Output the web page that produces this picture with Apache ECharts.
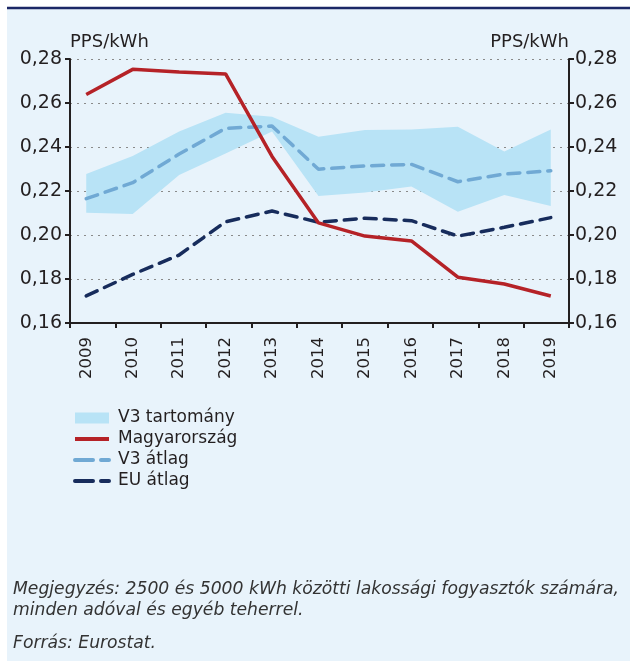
<!DOCTYPE html>
<html>
<head>
<meta charset="utf-8">
<script src="https://cdn.jsdelivr.net/npm/echarts@6/dist/echarts.min.js"></script>
<style>
  html, body { margin: 0; padding: 0; background: #fff; }
  #chart { width: 630px; height: 661px; }
</style>
</head>
<body>
<div id="chart"></div>
<script>
// evek es ertekek (PPS/kWh)
var years = ['2009', '2010', '2011', '2012', '2013', '2014', '2015', '2016', '2017', '2018', '2019'];
var hungary = [0.2639, 0.2753, 0.2741, 0.2732, 0.2357, 0.2055, 0.1995, 0.1973, 0.1808, 0.1777, 0.1723];
var v3Avg = [0.2165, 0.2238, 0.2368, 0.2485, 0.2495, 0.2299, 0.2314, 0.2321, 0.2242, 0.2277, 0.2292];
var euAvg = [0.1723, 0.1821, 0.1909, 0.2060, 0.2109, 0.2058, 0.2076, 0.2065, 0.1995, 0.2035, 0.2079];
var v3Low = [0.2101, 0.2095, 0.2273, 0.2371, 0.2470, 0.2177, 0.2193, 0.2220, 0.2106, 0.2182, 0.2132];
var v3High = [0.2277, 0.2359, 0.2470, 0.2556, 0.2538, 0.2447, 0.2477, 0.2480, 0.2492, 0.2379, 0.2480];

var yMin = 0.16, yMax = 0.28, yStep = 0.02;
var textCol = '#231f20';
var fontFam = '"DejaVu Sans"';
var noteFont = 'italic 17.2px "DejaVu Sans"';
var fmt = function (v) { return v.toFixed(2).replace('.', ','); };

var bandSpan = v3High.map(function (h, i) { return +(h - v3Low[i]).toFixed(4); });

var chart = echarts.init(document.getElementById('chart'));
chart.setOption({
  backgroundColor: '#ffffff',
  animation: false,
  textStyle: { fontFamily: fontFam, color: textCol },
  graphic: [
    { type: 'rect', shape: { x: 7, y: 9, width: 623, height: 652 }, style: { fill: '#e8f3fb' }, z: -10 },
    { type: 'line', shape: { x1: 7, y1: 8, x2: 630, y2: 8 }, style: { stroke: '#1b2766', lineWidth: 2.5 }, z: -9 },
    { type: 'text', left: 13, top: 581, style: { text: 'Megjegyzés: 2500 és 5000 kWh közötti lakossági fogyasztók számára,', font: noteFont, fill: '#333' } },
    { type: 'text', left: 13, top: 602, style: { text: 'minden adóval és egyéb teherrel.', font: noteFont, fill: '#333' } },
    { type: 'text', left: 13, top: 635, style: { text: 'Forrás: Eurostat.', font: noteFont, fill: '#333' } }
  ],
  legend: {
    orient: 'vertical',
    left: 68,
    top: 404,
    itemWidth: 34,
    itemHeight: 11,
    itemGap: 3,
    textStyle: { fontSize: 17, lineHeight: 18, color: textCol, padding: [0, 0, 0, 4] },
    data: [
      { name: 'V3 tartomány', icon: 'rect' },
      { name: 'Magyarország', itemStyle: { opacity: 0 }, lineStyle: { width: 4, type: 'solid' } },
      { name: 'V3 átlag', itemStyle: { opacity: 0 }, lineStyle: { width: 4, type: [18, 8], cap: 'round' } },
      { name: 'EU átlag', itemStyle: { opacity: 0 }, lineStyle: { width: 4, type: [18, 8], cap: 'round' } }
    ]
  },
  grid: [
    { left: 70, right: 61, top: 59, bottom: 338 },
    { left: 63, right: 56, top: 59, bottom: 338 }
  ],
  xAxis: [
    {
      type: 'category', gridIndex: 0, data: years, boundaryGap: true,
      axisLine: { lineStyle: { color: textCol, width: 2 } },
      axisTick: { show: true, length: 5, lineStyle: { color: textCol, width: 2 } },
      axisLabel: { show: false }
    },
    {
      type: 'category', gridIndex: 1, data: years, boundaryGap: true,
      axisLine: { show: false }, axisTick: { show: false },
      axisLabel: { rotate: 90, fontSize: 16.5, color: textCol, margin: 14 }
    }
  ],
  yAxis: [
    {
      type: 'value', gridIndex: 0, min: yMin, max: yMax, interval: yStep, position: 'left',
      name: 'PPS/kWh', nameLocation: 'end', nameGap: 8,
      nameTextStyle: { fontSize: 18, color: textCol, align: 'left' },
      axisLine: { show: true, lineStyle: { color: textCol, width: 2 } },
      axisTick: { show: true, length: 5, lineStyle: { color: textCol, width: 2 } },
      axisLabel: { fontSize: 19, color: textCol, margin: 8, formatter: fmt },
      splitLine: { show: true, lineStyle: { color: '#8a8a8a', type: [2, 5], width: 1 } }
    },
    {
      type: 'value', gridIndex: 0, min: yMin, max: yMax, interval: yStep, position: 'right',
      name: 'PPS/kWh', nameLocation: 'end', nameGap: 8,
      nameTextStyle: { fontSize: 18, color: textCol, align: 'right' },
      axisLine: { show: true, lineStyle: { color: textCol, width: 2 } },
      axisTick: { show: true, length: 5, lineStyle: { color: textCol, width: 2 } },
      axisLabel: { fontSize: 19, color: textCol, margin: 6, formatter: fmt },
      splitLine: { show: false }
    },
    {
      type: 'value', gridIndex: 1, min: yMin, max: yMax, interval: yStep,
      axisLine: { show: false }, axisTick: { show: false }, axisLabel: { show: false }, splitLine: { show: false }
    }
  ],
  series: [
    {
      name: 'band-base', type: 'line', xAxisIndex: 1, yAxisIndex: 2, stack: 'band',
      data: v3Low, symbol: 'none', lineStyle: { opacity: 0 }, silent: true, z: 1
    },
    {
      name: 'V3 tartomány', type: 'line', xAxisIndex: 1, yAxisIndex: 2, stack: 'band',
      data: bandSpan, symbol: 'none', lineStyle: { opacity: 0 },
      itemStyle: { color: '#b8e3f6' },
      areaStyle: { color: '#b8e3f6', opacity: 1 }, z: 1
    },
    {
      name: 'Magyarország', type: 'line', xAxisIndex: 1, yAxisIndex: 2,
      data: hungary, symbol: 'none', itemStyle: { color: '#b52227' },
      lineStyle: { color: '#b52227', width: 3.5 }, z: 3
    },
    {
      name: 'V3 átlag', type: 'line', xAxisIndex: 1, yAxisIndex: 2,
      data: v3Avg, symbol: 'none', itemStyle: { color: '#70a9d4' },
      lineStyle: { color: '#70a9d4', width: 3.5, type: [12, 8], cap: 'round' }, z: 2
    },
    {
      name: 'EU átlag', type: 'line', xAxisIndex: 1, yAxisIndex: 2,
      data: euAvg, symbol: 'none', itemStyle: { color: '#172c5c' },
      lineStyle: { color: '#172c5c', width: 3.5, type: [12, 8], cap: 'round' }, z: 2
    }
  ]
});
</script>
</body>
</html>
